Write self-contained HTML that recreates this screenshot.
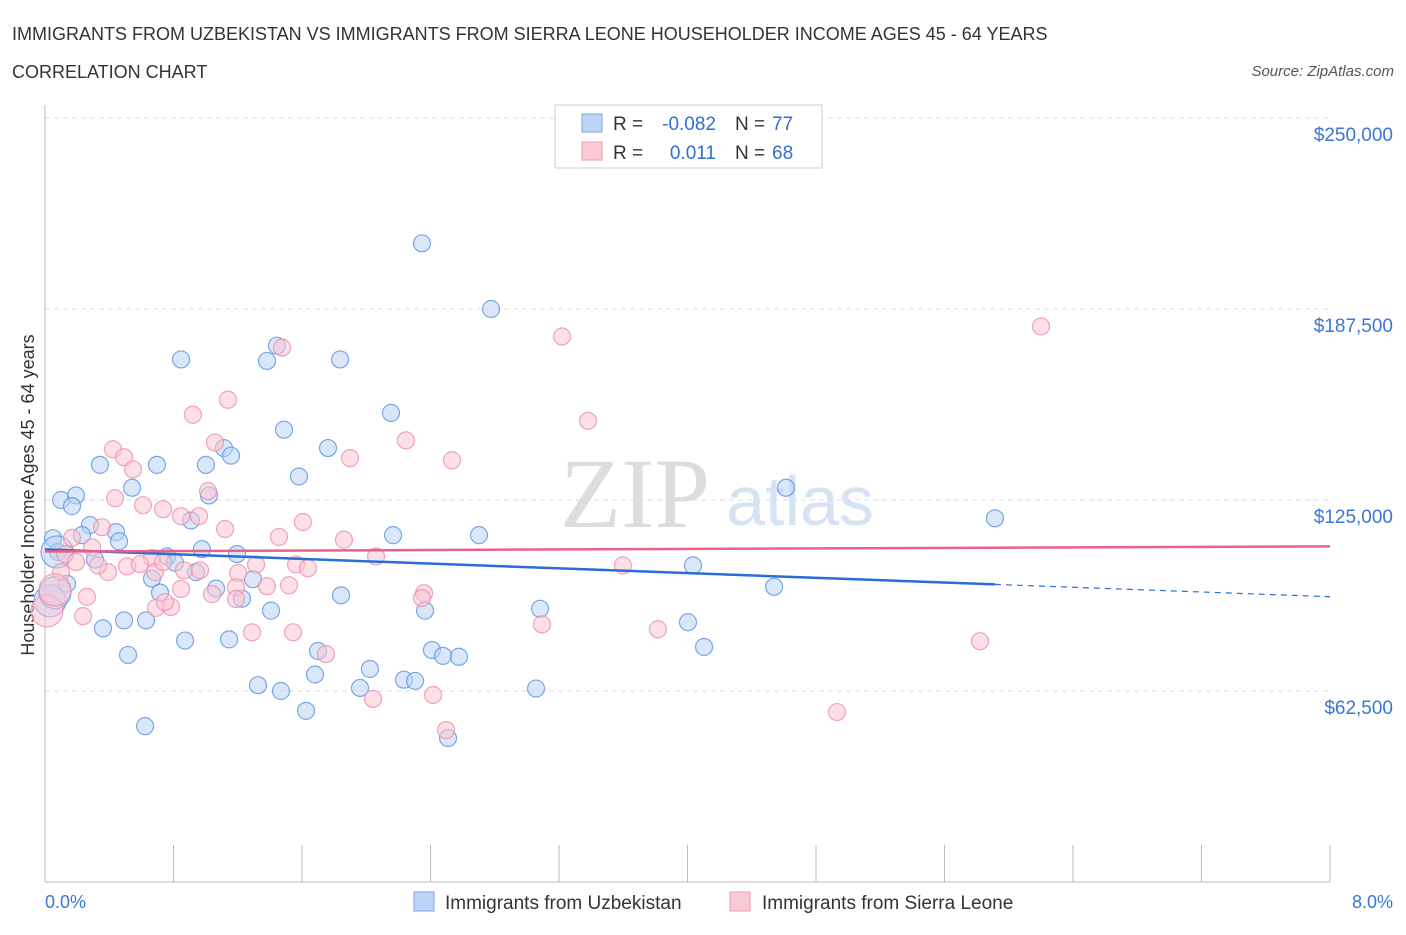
<!DOCTYPE html>
<html><head><meta charset="utf-8"><style>
body{margin:0;background:#fff;font-family:"Liberation Sans",sans-serif;}
</style></head><body>
<svg id="c" width="1406" height="930" xmlns="http://www.w3.org/2000/svg" font-family="Liberation Sans, sans-serif">
<text x="12" y="40" font-size="18" fill="#333">IMMIGRANTS FROM UZBEKISTAN VS IMMIGRANTS FROM SIERRA LEONE HOUSEHOLDER INCOME AGES 45 - 64 YEARS</text>
<text x="12" y="78" font-size="18" fill="#333">CORRELATION CHART</text>
<text x="1394" y="76" font-size="15" fill="#555" text-anchor="end" font-style="italic">Source: ZipAtlas.com</text>
<text x="635" y="527" font-size="100" fill="#ddd" text-anchor="middle" style="font-family:'Liberation Serif',serif">ZIP</text>
<text x="800" y="525" font-size="70" fill="#d6e3f5" text-anchor="middle">atlas</text>
<g id="grid"></g>
<line x1="45" y1="105" x2="45" y2="882" stroke="#bbb"/>
<line x1="45" y1="882" x2="1330" y2="882" stroke="#bbb"/>
<g id="ticks"></g>
<text transform="translate(34,495) rotate(-90)" font-size="18" fill="#333" text-anchor="middle">Householder Income Ages 45 - 64 years</text>
<text x="45" y="908" font-size="18" fill="#3a76d6">0.0%</text>
<text x="1393" y="908" font-size="18" fill="#3a76d6" text-anchor="end">8.0%</text>
<g id="pts"></g>
<g id="trend"></g>
<g>
<rect x="555" y="105" width="267" height="63" fill="#fff" stroke="#ccc"/>
<rect x="582" y="114" width="20" height="18" fill="#bdd5f5" stroke="#7aa6e8"/>
<rect x="582" y="142" width="20" height="18" fill="#f9c9d6" stroke="#ee9ab2"/>
<text x="613" y="130" font-size="19" fill="#333">R =</text>
<text x="716" y="130" font-size="19" fill="#2f6fd3" text-anchor="end">-0.082</text>
<text x="735" y="130" font-size="19" fill="#333">N =</text>
<text x="772" y="130" font-size="19" fill="#2f6fd3">77</text>
<text x="613" y="159" font-size="19" fill="#333">R =</text>
<text x="716" y="159" font-size="19" fill="#2f6fd3" text-anchor="end">0.011</text>
<text x="735" y="159" font-size="19" fill="#333">N =</text>
<text x="772" y="159" font-size="19" fill="#2f6fd3">68</text>
</g>
<g>
<rect x="414" y="892" width="20" height="19" fill="#bdd5f5" stroke="#7aa6e8"/>
<text x="445" y="909" font-size="19" fill="#333">Immigrants from Uzbekistan</text>
<rect x="730" y="892" width="20" height="19" fill="#f9c9d6" stroke="#ee9ab2"/>
<text x="762" y="909" font-size="19" fill="#333">Immigrants from Sierra Leone</text>
</g>
</svg>
<script>
const yTicks=[62500,125000,187500,250000];
const yTickLabels=["$62,500","$125,000","$187,500","$250,000"];
const xTicks=[0,1,2,3,4,5,6,7,8,9,10];
// Uzbekistan: percent, income
const blueX=[2.347,2.777,0.847,1.382,1.444,1.837,2.154,1.488,1.762,1.114,1.158,0.342,0.697,1.002,1.581,0.542,1.021,0.100,0.193,0.168,0.280,0.442,0.230,0.050,0.461,0.081,0.311,0.760,0.809,0.909,0.977,1.195,0.940,1.295,4.613,5.914,2.702,2.167,4.034,4.539,0.137,0.666,0.716,1.065,1.226,1.407,1.843,2.366,3.082,0.361,0.492,0.629,0.872,1.146,0.517,1.700,2.409,2.478,2.577,2.023,2.235,2.304,1.681,1.326,1.469,1.961,3.057,1.625,0.623,2.509,4.003,4.103,0.031,0.075,0.062];
const blueY=[209000,187500,171000,170500,175500,171000,153500,148000,142000,142000,139500,136500,136500,136500,132700,129000,126500,125000,126500,123000,116800,114500,113500,112500,111500,108000,105500,106500,104500,118300,108900,107300,101400,99100,129000,119000,113500,113500,103600,96600,97600,99300,94700,96000,92700,88800,93800,88800,89400,83000,85600,85600,79000,79400,74300,75600,75900,74000,73700,69700,66200,65800,67900,64400,62500,63500,63300,56000,51000,47100,85000,76900,92000,108000,94700];
// Sierra Leone
const pinkX=[3.219,6.201,1.476,1.139,0.921,3.381,1.058,2.247,1.899,2.534,0.423,0.492,0.548,0.436,1.015,0.610,0.735,0.847,0.959,1.606,1.121,1.457,1.861,0.168,0.355,0.293,0.125,0.193,0.666,0.865,0.392,0.511,0.591,0.685,0.330,0.100,0.735,1.314,1.563,2.061,1.202,3.598,0.965,1.382,1.519,1.189,1.040,1.189,0.847,1.637,0.261,0.691,0.784,0.747,2.360,2.347,0.237,1.289,1.544,3.094,3.816,5.821,1.749,2.042,2.416,4.931,2.497,0.012,0.062];
const pinkY=[178500,181800,174900,157800,152900,150900,143800,144500,138700,138000,141600,139000,135000,125600,127900,123300,122000,119700,119700,117800,115500,112900,112000,112600,116100,109500,107300,104700,106000,102000,101400,103300,104000,101400,103600,101400,104700,103900,103900,106500,101100,103600,102000,96800,97100,96400,94200,92600,95900,102700,93300,89700,90000,91600,94500,92900,87000,81700,81700,84300,82700,78800,74600,59900,61200,55600,49700,88700,95600];
const X=p=>45+p/8*1285, Y=v=>882-v*191/62500;
const NS="http://www.w3.org/2000/svg";
function mk(t,a,p){const e=document.createElementNS(NS,t);for(const k in a)e.setAttribute(k,a[k]);p.appendChild(e);return e;}
const grid=document.getElementById('grid'),ticks=document.getElementById('ticks');
yTicks.forEach((v,i)=>{
 const l=mk('line',{x1:45,x2:1330,y1:Y(v),y2:Y(v),stroke:'#ddd','stroke-dasharray':'5,4'},grid);
 
 
 const t=mk('text',{x:1393,y:Y(v)+23,'font-size':19,fill:'#3a76d6','text-anchor':'end'},ticks);
 t.textContent=yTickLabels[i];
 
 
});
xTicks.forEach(i=>{
 const x=45+i*1285/10;
 if(x>1331)return;
 const l=mk('line',{x1:x,x2:x,y1:845,y2:882,stroke:'#bbb'},ticks);
 
 
});
const pts=document.getElementById('pts');
function draw(xs,ys,fill,stroke,name){
 xs.forEach((p,i)=>{
  const big=(p<0.1&&(i>=xs.length-3));
  const c=mk('circle',{cx:X(p),cy:Y(ys[i]),r:big?16:8.5,fill:fill,'fill-opacity':0.55,stroke:stroke,'stroke-opacity':0.8,'stroke-width':1.2},pts);
  
  
 });
}
draw(blueX,blueY,'#bcd4f4','#5b93e0','point-uzbekistan');
draw(pinkX,pinkY,'#f9c5d4','#ec8fab','point-sierra-leone');
function fit(xs,ys){const n=xs.length;let sx=0,sy=0,sxx=0,sxy=0;for(let i=0;i<n;i++){sx+=xs[i];sy+=ys[i];sxx+=xs[i]*xs[i];sxy+=xs[i]*ys[i];}
 const b=(n*sxy-sx*sy)/(n*sxx-sx*sx);return [(sy-b*sx)/n,b];}
const tr=document.getElementById('trend');
let [a,b]=fit(blueX,blueY);
const xEnd=Math.max(...blueX);
let l=mk('line',{x1:X(0),y1:Y(a),x2:X(xEnd),y2:Y(a+b*xEnd),stroke:'#2a6dd6','stroke-width':2.5},tr);


l=mk('line',{x1:X(xEnd),y1:Y(a+b*xEnd),x2:X(8),y2:Y(a+b*8),stroke:'#2a6dd6','stroke-width':1.2,'stroke-dasharray':'6,5'},tr);


[a,b]=fit(pinkX,pinkY);
l=mk('line',{x1:X(0),y1:Y(a),x2:X(8),y2:Y(a+b*8),stroke:'#e8608c','stroke-width':2.5},tr);


</script>
</body></html>
